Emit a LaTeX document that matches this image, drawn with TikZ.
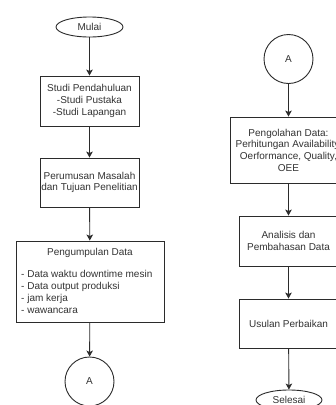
\documentclass[tikz,border=0pt]{standalone}
\usepackage{fontspec}
\setmainfont{Liberation Sans}
\usetikzlibrary{shapes.geometric,arrows.meta}
\definecolor{ink}{HTML}{2B2B2B}
\definecolor{txt}{HTML}{333333}
\tikzset{
  box/.style={draw=ink, line width=0.9pt, rectangle, inner sep=0pt, align=center, text=txt,
    font=\fontsize{10}{11.7}\selectfont},
  term/.style={draw=ink, line width=0.9pt, ellipse, inner sep=0pt, text=txt,
    font=\fontsize{10}{11.7}\selectfont},
  conn/.style={draw=ink, line width=0.9pt, circle, inner sep=0pt, minimum size=49pt, text=txt,
    font=\fontsize{10}{11.7}\selectfont},
  lbl/.style={inner sep=0pt, text=txt, font=\fontsize{10}{11.7}\selectfont},
  flow/.style={draw=ink, line width=0.9pt, -{Stealth[length=6pt,width=6.5pt,inset=1.5pt]}}
}
\begin{document}
\begin{tikzpicture}[x=1pt,y=-1pt]
\clip (0,0) rectangle (336,405);
\fill[white] (0,0) rectangle (336,405);
% left column
\node[term, minimum width=67pt, minimum height=20pt] (mulai) at (89.5,27) {Mulai};
\node[box, minimum width=99pt, minimum height=50pt] (s1) at (89.5,101) {Studi Pendahuluan\\-Studi Pustaka\\-Studi Lapangan};
\node[box, minimum width=99pt, minimum height=49pt] (s2) at (89.5,182.5) {Perumusan Masalah\\dan Tujuan Penelitian};
\node[box, minimum width=148pt, minimum height=81pt] (s3) at (90,281.5) {};
\node[lbl] (s3t) at (90,253) {Pengumpulan Data};
\node[lbl, anchor=north west, align=left] (s3l) at (21,270.5) {- Data waktu downtime mesin\\- Data output produksi\\- jam kerja\\- wawancara};
\node[conn] (a1) at (89.5,381.5) {A};
% right column
\node[conn] (a2) at (288.5,59) {A};
\node[box, minimum width=116pt, minimum height=66pt] (r1) at (288.5,150) {Pengolahan Data:\\Perhitungan Availability,\\Oerformance, Quality,\\OEE};
\node[box, minimum width=99pt, minimum height=50pt] (r2) at (288.5,241) {Analisis dan\\Pembahasan Data};
\node[box, minimum width=99pt, minimum height=49pt] (r3) at (288.5,323.5) {Usulan Perbaikan};
\node[term, minimum width=66pt, minimum height=20pt] (selesai) at (289,400) {Selesai};
% connectors
\draw[flow] (mulai) -- (s1);
\draw[flow] (s1) -- (s2);
\draw[flow] (s2) -- (s3);
\draw[flow] (s3) -- (a1);
\draw[flow] (a2) -- (r1);
\draw[flow] (r1) -- (r2);
\draw[flow] (r2) -- (r3);
\draw[flow] (r3) -- (selesai);
\end{tikzpicture}
\end{document}
